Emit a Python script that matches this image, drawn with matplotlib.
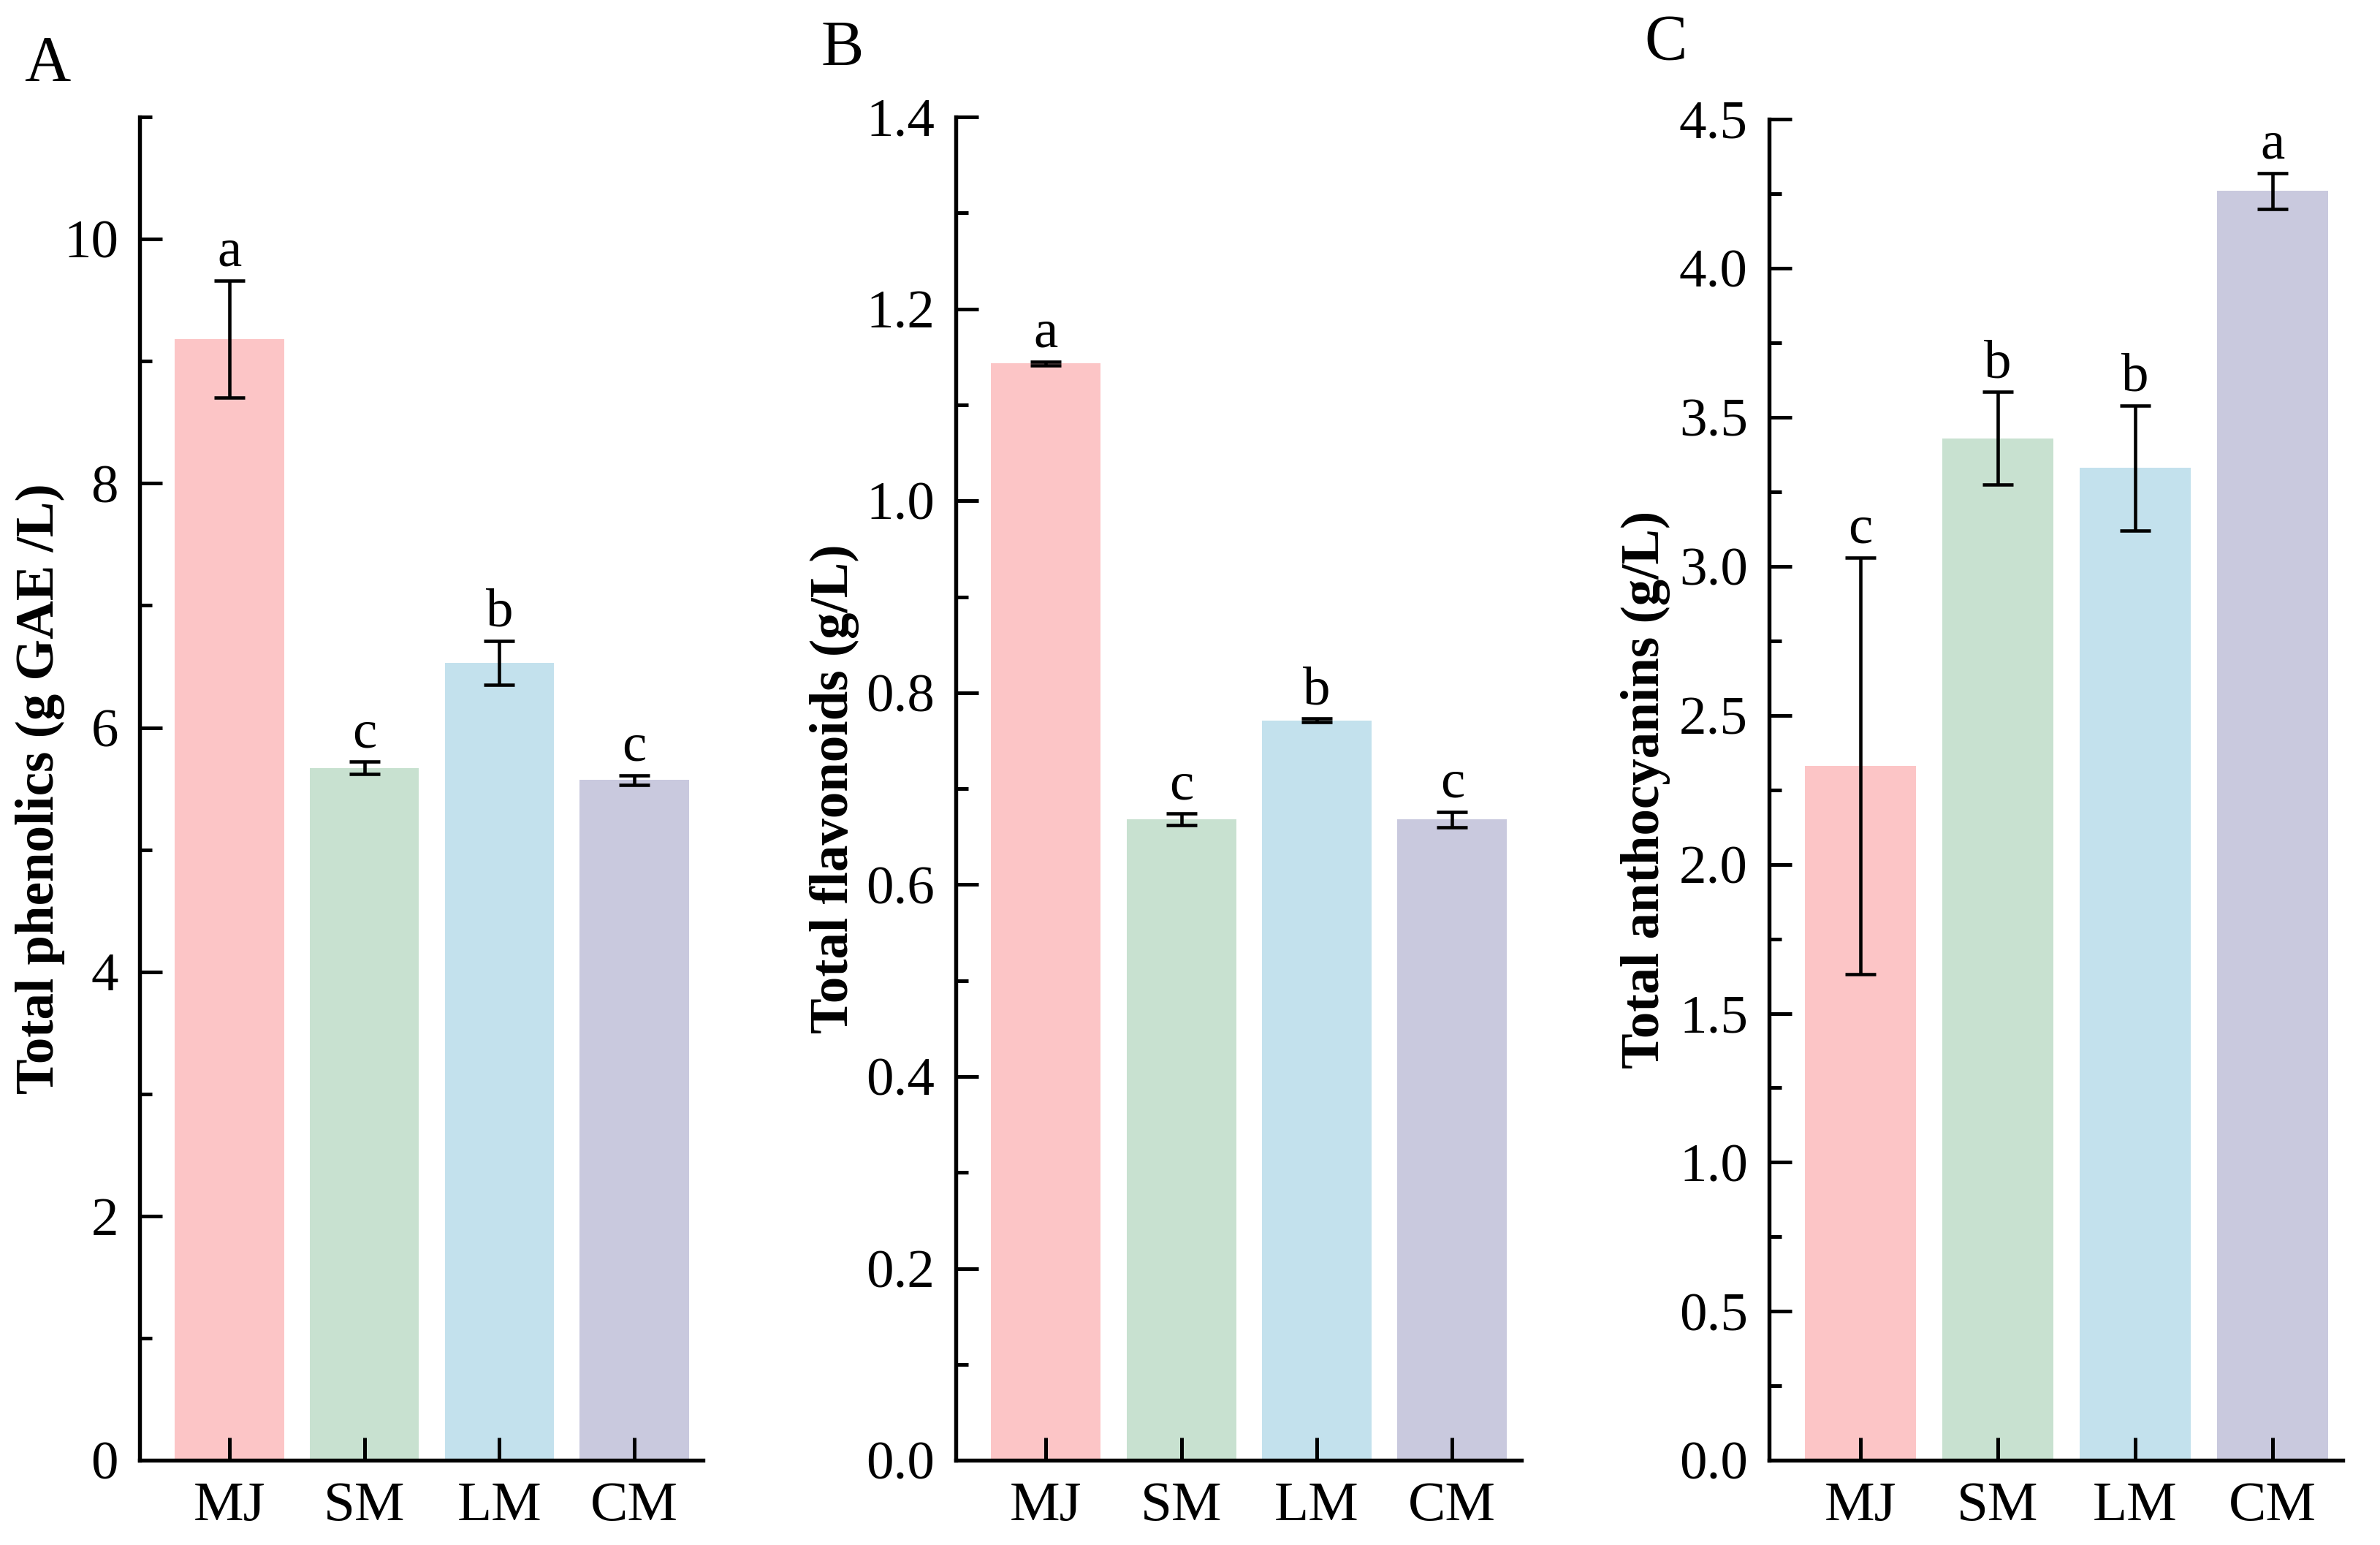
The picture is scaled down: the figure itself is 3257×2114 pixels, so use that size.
import numpy as np
import matplotlib.pyplot as plt
from matplotlib.ticker import MultipleLocator

plt.rcParams["font.family"] = ["Liberation Serif", "DejaVu Serif"]

groups = ["MJ", "SM", "LM", "CM"]
colors = ["#fcc5c6", "#c8e1d0", "#c3e1ed", "#c9c9de"]

phenolics = [9.18, 5.67, 6.53, 5.57]
phenolics_err = [0.48, 0.05, 0.18, 0.04]
phenolics_sig = ["a", "c", "b", "c"]

flavonoids = [1.143, 0.668, 0.771, 0.668]
flavonoids_err = [0.002, 0.006, 0.002, 0.008]
flavonoids_sig = ["a", "c", "b", "c"]

anthocyanins = [2.33, 3.43, 3.33, 4.26]
anthocyanins_err = [0.70, 0.155, 0.21, 0.06]
anthocyanins_sig = ["c", "b", "b", "a"]

panels = [
    ("A", phenolics, phenolics_err, phenolics_sig, "Total phenolics (g GAE /L)",
     (0, 11), 2, 1, "{:.0f}"),
    ("B", flavonoids, flavonoids_err, flavonoids_sig, "Total flavonoids (g/L)",
     (0, 1.4), 0.2, 0.1, "{:.1f}"),
    ("C", anthocyanins, anthocyanins_err, anthocyanins_sig, "Total anthocyanins (g/L)",
     (0, 4.5), 0.5, 0.25, "{:.1f}"),
]

ax_rects = [
    [0.0587, 0.0548, 0.2367, 0.8695],
    [0.4016, 0.0548, 0.2376, 0.8695],
    [0.7433, 0.0548, 0.2410, 0.8680],
]
label_x = [-0.133, -0.171, -0.172]
letter_pos = [(0.020, 0.958), (0.354, 0.968), (0.700, 0.972)]

fig = plt.figure(figsize=(3257 / 300, 2114 / 300), dpi=300)

x = np.arange(1, len(groups) + 1)

for i, (tag, vals, errs, sig, ylab, ylim, major, minor, fmt) in enumerate(panels):
    ax = fig.add_axes(ax_rects[i])
    ax.bar(x, vals, width=0.81, color=colors, edgecolor="none")
    ax.errorbar(x, vals, yerr=errs, fmt="none", ecolor="black",
                elinewidth=1.1, capsize=5, capthick=1.1)
    for xi, v, e, s in zip(x, vals, errs, sig):
        ax.annotate(s, (xi, v + e), xytext=(0, 1), textcoords="offset points",
                    ha="center", va="bottom", fontsize=18)

    ax.set_xlim(0.335, 4.51)
    ax.set_ylim(*ylim)
    ax.set_xticks(x)
    ax.set_xticklabels(groups, fontsize=18.5)
    ax.yaxis.set_minor_locator(MultipleLocator(minor))
    yt = np.arange(ylim[0], ylim[1] + 1e-9, major)
    ax.set_yticks(yt)
    ax.set_yticklabels([fmt.format(t) for t in yt], fontsize=18)

    ax.tick_params(axis="both", which="major", direction="in", length=7.5,
                   width=1.2, pad=7)
    ax.tick_params(axis="y", which="minor", direction="in", length=4, width=1.2)
    ax.tick_params(axis="x", which="minor", bottom=False)

    for side in ["top", "right"]:
        ax.spines[side].set_visible(False)
    for side in ["left", "bottom"]:
        ax.spines[side].set_linewidth(1.3)

    ax.set_ylabel(ylab, fontsize=17.5, fontweight="bold")
    ax.yaxis.set_label_coords(label_x[i], 0.5)

    fig.text(letter_pos[i][0], letter_pos[i][1], tag, fontsize=21,
             ha="center", va="center")

plt.savefig("out.png", dpi=300)
